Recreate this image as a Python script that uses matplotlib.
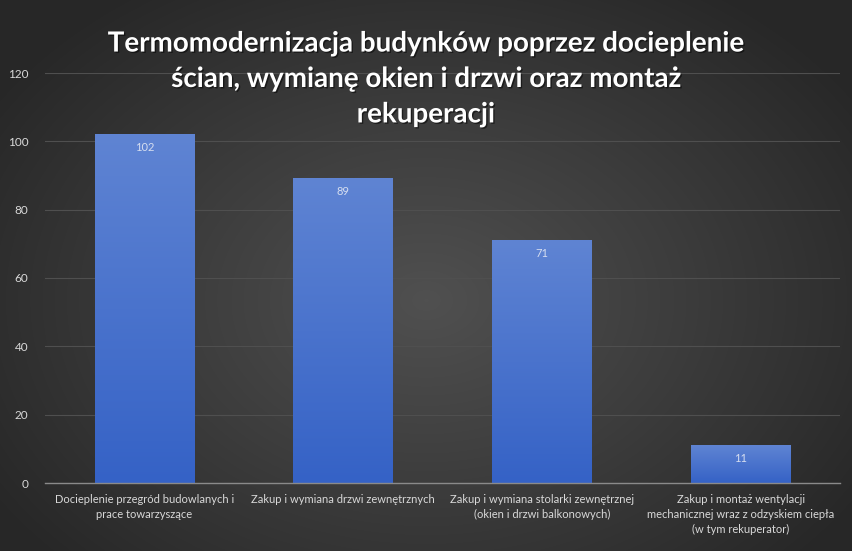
import numpy as np
import matplotlib
matplotlib.use('Agg')
import matplotlib.pyplot as plt
from matplotlib.colors import LinearSegmentedColormap
import matplotlib.patheffects as pe

categories = ['Docieplenie przegród budowlanych i\nprace towarzyszące',
              'Zakup i wymiana drzwi zewnętrznych',
              'Zakup i wymiana stolarki zewnętrznej\n(okien i drzwi balkonowych)',
              'Zakup i montaż wentylacji\nmechanicznej wraz z odzyskiem ciepła\n(w tym rekuperator)']
values = [102, 89, 71, 11]
yticks = [0, 20, 40, 60, 80, 100, 120]
title = 'Termomodernizacja budynków poprzez docieplenie\nścian, wymianę okien i drzwi oraz montaż\nrekuperacji'

plt.rcParams['font.family'] = ['Lato', 'DejaVu Sans']

fig = plt.figure(figsize=(8.52, 5.51), dpi=100)

# tlo - gradient radialny
bg = fig.add_axes([0, 0, 1, 1], zorder=-10)
yy, xx = np.mgrid[0:551, 0:852]
r = np.sqrt(((xx - 426) / 520.0) ** 2 + ((yy - 300) / 380.0) ** 2)
r = np.clip(r, 0, 1)
bg_cmap = LinearSegmentedColormap.from_list('bg', ['#505050', '#3c3c3c', '#272727'])
bg.imshow(r, cmap=bg_cmap, aspect='auto', vmin=0, vmax=1)
bg.axis('off')

ax = fig.add_axes([45 / 852, 1 - 483 / 551, 795 / 852, 410 / 551])
ax.patch.set_alpha(0)

x = np.arange(len(values))
bar_cmap = LinearSegmentedColormap.from_list('bar', ['#3562c6', '#5f84d3'])
grad = np.linspace(0, 1, 256).reshape(-1, 1)
w = 0.5
for xi, v in zip(x, values):
    ax.imshow(grad, cmap=bar_cmap, origin='lower', aspect='auto',
              extent=[xi - w / 2, xi + w / 2, 0, v], zorder=3)
    ax.text(xi, v - 2.2, str(v), ha='center', va='top', color='#d6def0',
            fontsize=8, zorder=4)

ax.set_xlim(-0.5, len(values) - 0.5)
ax.set_ylim(0, 120)
ax.set_yticks(yticks)
ax.set_xticks(x)
ax.set_xticklabels(categories, fontsize=8, color='#d9d9d9', linespacing=1.45)
ax.tick_params(axis='y', colors='#d9d9d9', labelsize=8.5, length=0, pad=12)
ax.tick_params(axis='x', length=0, pad=8)
ax.grid(axis='y', color='#4f4f4f', linewidth=0.8, zorder=0)
for s in ['top', 'right', 'left']:
    ax.spines[s].set_visible(False)
ax.spines['bottom'].set_color('#8a8a8a')
ax.spines['bottom'].set_linewidth(1)
ax.spines['bottom'].set_zorder(5)

fig.text(0.5, 1 - 79 / 551, title, ha='center', va='center', color='white',
         fontsize=20, fontweight='bold', linespacing=1.45,
         path_effects=[pe.withSimplePatchShadow(offset=(1, -1), shadow_rgbFace='black', alpha=0.5)])

fig.savefig('out.png', dpi=100)
